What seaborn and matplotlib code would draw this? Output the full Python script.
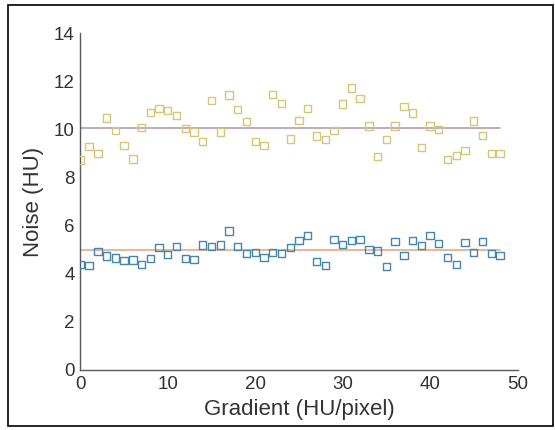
import matplotlib
matplotlib.use("Agg")
import matplotlib.pyplot as plt
import seaborn as sns
import pandas as pd
from matplotlib.patches import Rectangle

# ---- data ----
gradient = list(range(49))
noise_high = [8.72, 9.29, 9.00, 10.47, 9.96, 9.32, 8.77, 10.08, 10.70, 10.85,
              10.77, 10.56, 10.04, 9.89, 9.50, 11.20, 9.89, 11.42, 10.82, 10.31,
              9.50, 9.32, 11.45, 11.07, 9.60, 10.36, 10.86, 9.72, 9.58, 9.96,
              11.05, 11.71, 11.28, 10.14, 8.86, 9.58, 10.14, 10.96, 10.68, 9.25,
              10.14, 10.00, 8.75, 8.91, 9.12, 10.35, 9.75, 9.00, 9.00]
noise_low = [4.37, 4.34, 4.91, 4.74, 4.66, 4.54, 4.57, 4.39, 4.62, 5.09,
             4.80, 5.13, 4.62, 4.58, 5.20, 5.13, 5.20, 5.77, 5.13, 4.83,
             4.87, 4.68, 4.87, 4.83, 5.09, 5.37, 5.59, 4.51, 4.34, 5.42,
             5.21, 5.38, 5.42, 5.01, 4.95, 4.30, 5.34, 4.76, 5.38, 5.17,
             5.59, 5.26, 4.68, 4.39, 5.30, 4.88, 5.34, 4.84, 4.76]
line_x = [0, 48]
line_high = [10.04, 10.04]
line_low = [4.97, 4.97]
xticks = [0, 10, 20, 30, 40, 50]
yticks = [0, 2, 4, 6, 8, 10, 12, 14]

col_high = "#d8c57a"
col_low = "#4386b0"
col_line_high = "#b89cb8"
col_line_low = "#eaa884"
axis_col = "#5a5a5a"
text_col = "#333333"

sns.set_style("white")
plt.rcParams["font.family"] = ["Liberation Sans", "DejaVu Sans"]

fig = plt.figure(figsize=(5.55, 4.30), dpi=100)
ax = fig.add_axes([80.4 / 555, 60 / 430, (517.5 - 80.4) / 555, (370 - 33) / 430])

df_high = pd.DataFrame({"x": gradient, "y": noise_high})
df_low = pd.DataFrame({"x": gradient, "y": noise_low})
df_lh = pd.DataFrame({"x": line_x, "y": line_high})
df_ll = pd.DataFrame({"x": line_x, "y": line_low})

sns.lineplot(data=df_lh, x="x", y="y", ax=ax, color=col_line_high, linewidth=1.2, zorder=1)
sns.lineplot(data=df_ll, x="x", y="y", ax=ax, color=col_line_low, linewidth=1.2, zorder=1)
sns.scatterplot(data=df_high, x="x", y="y", ax=ax, marker="s", s=28,
                facecolor="none", edgecolor=col_high, linewidth=1.0, zorder=3)
sns.scatterplot(data=df_low, x="x", y="y", ax=ax, marker="s", s=28,
                facecolor="none", edgecolor=col_low, linewidth=1.0, zorder=3)

ax.set_xlim(0, 50)
ax.set_ylim(0, 14)
ax.set_xticks(xticks)
ax.set_yticks(yticks)
ax.set_xticklabels([str(t) for t in xticks])
ax.set_yticklabels([str(t) for t in yticks])

for side in ["top", "right"]:
    ax.spines[side].set_visible(False)
for side in ["left", "bottom"]:
    ax.spines[side].set_color(axis_col)
    ax.spines[side].set_linewidth(1.0)

ax.tick_params(axis="both", direction="in", length=4, width=0.8, color=axis_col,
               labelsize=13.5, labelcolor=text_col, pad=4)
ax.set_xlabel("Gradient (HU/pixel)", fontsize=16, color=text_col, labelpad=5)
ax.set_ylabel("Noise (HU)", fontsize=16, color=text_col, labelpad=7)

fig.patches.append(Rectangle((8 / 555, 4 / 430), (553 - 8) / 555, (425 - 4) / 430,
                             transform=fig.transFigure, fill=False,
                             edgecolor="black", linewidth=1.2))

fig.savefig("out.png", dpi=100, facecolor="white")
